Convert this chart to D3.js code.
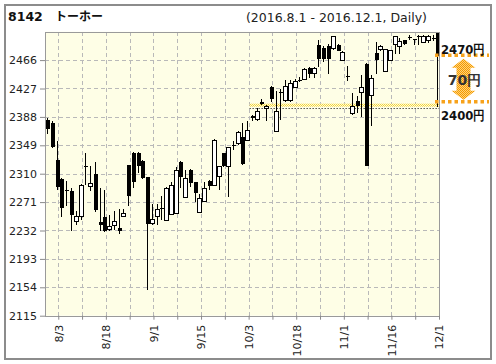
<!DOCTYPE html>
<html>
<head>
<meta charset="utf-8">
<script src="https://cdn.jsdelivr.net/npm/d3@7"></script>
<style>
body { margin: 0; background: #fff; }
</style>
</head>
<body>
<div id="chart"></div>
<script>
// trading days 2016.8.1 - 2016.12.1
var dates = ['8/1','8/2','8/3','8/4','8/5','8/8','8/9','8/10','8/12','8/15','8/16','8/17','8/18','8/19','8/22','8/23','8/24','8/25','8/26','8/29','8/30','8/31',
    '9/1','9/2','9/5','9/6','9/7','9/8','9/9','9/12','9/13','9/14','9/15','9/16','9/20','9/21','9/23','9/26','9/27','9/28','9/29','9/30',
    '10/3','10/4','10/5','10/6','10/7','10/11','10/12','10/13','10/14','10/17','10/18','10/19','10/20','10/21','10/24','10/25','10/26','10/27','10/28','10/31',
    '11/1','11/2','11/4','11/7','11/8','11/9','11/10','11/11','11/14','11/15','11/16','11/17','11/18','11/21','11/22','11/24','11/25','11/28','11/29','11/30','12/1'];
var opens = [2384,2380,2329,2303,2287,2286,2244,2251,2321,2292,2310,2243,2250,2234,2239,2236,2251,2322,2339,2339,2328,2305,
    2242,2251,2263,2246,2254,2256,2326,2277,2315,2298,2257,2272,2300,2294,2306,2338,2320,2350,2352,2360,
    2356,2389,2385,2409,2399,2429,2368,2422,2410,2411,2429,2439,2440,2455,2448,2487,2483,2486,2482,2487,
    2466,2444,2393,2410,2422,2461,2418,2476,2481,2451,2466,2487,2485,2493,2498,2495,2499,2490,2493,2497,2505];
var highs = [2386,2382,2355,2304,2300,2290,2259,2296,2338,2321,2326,2291,2287,2253,2259,2261,2261,2322,2340,2340,2329,2305,
    2269,2268,2279,2292,2299,2319,2327,2315,2316,2299,2282,2298,2301,2357,2321,2339,2347,2355,2368,2379,
    2382,2390,2400,2413,2404,2430,2423,2427,2439,2439,2440,2443,2455,2456,2456,2494,2485,2488,2499,2488,
    2478,2458,2421,2417,2445,2462,2446,2491,2487,2481,2480,2499,2496,2494,2501,2495,2500,2500,2500,2500,2505];
var lows = [2364,2345,2288,2251,2265,2231,2240,2247,2295,2286,2258,2231,2230,2231,2233,2227,2251,2266,2291,2311,2303,2150,
    2239,2239,2247,2246,2254,2255,2291,2276,2292,2271,2256,2271,2288,2293,2287,2319,2278,2342,2350,2322,
    2355,2382,2382,2404,2382,2409,2367,2384,2409,2409,2428,2436,2439,2441,2441,2456,2463,2447,2480,2478,
    2465,2437,2391,2393,2388,2320,2376,2447,2479,2450,2465,2474,2475,2487,2494,2487,2487,2489,2489,2492,2402];
var closes = [2371,2346,2292,2263,2286,2253,2251,2294,2320,2297,2260,2240,2231,2237,2245,2232,2255,2280,2299,2320,2304,2241,
    2247,2261,2261,2289,2294,2314,2306,2304,2297,2284,2276,2290,2293,2356,2320,2320,2346,2348,2367,2323,
    2370,2387,2395,2406,2402,2413,2395,2421,2430,2434,2437,2438,2453,2447,2455,2468,2468,2468,2498,2479,
    2476,2443,2402,2403,2429,2321,2441,2466,2485,2480,2479,2498,2492,2488,2497,2494,2498,2499,2499,2496,2472];

var yTicks = [2115, 2154, 2193, 2232, 2271, 2310, 2349, 2388, 2427, 2466];
var xLabels = ['8/3', '8/18', '9/1', '9/15', '10/3', '10/18', '11/1', '11/16', '12/1'];
var rangeHigh = 2470, rangeLow = 2400;

var W = 496, H = 364;
var plotL = 45, plotR = 440, plotT = 31.7, plotB = 315.7;

var svg = d3.select('#chart').append('svg')
    .attr('width', W)
    .attr('height', H)
    .style('font-family', '"DejaVu Sans", Verdana, sans-serif');

var defs = svg.append('defs');
var pOrange = defs.append('pattern').attr('id', 'dotOrange')
    .attr('width', 2).attr('height', 2).attr('patternUnits', 'userSpaceOnUse');
pOrange.append('rect').attr('width', 2).attr('height', 2).attr('fill', '#ffd27a');
pOrange.append('rect').attr('width', 1).attr('height', 1).attr('fill', '#f39a00');
pOrange.append('rect').attr('x', 1).attr('y', 1).attr('width', 1).attr('height', 1).attr('fill', '#f39a00');

var pYellow = defs.append('pattern').attr('id', 'dotYellow')
    .attr('width', 2).attr('height', 2).attr('patternUnits', 'userSpaceOnUse');
pYellow.append('rect').attr('width', 2).attr('height', 2).attr('fill', '#fffbd8');
pYellow.append('rect').attr('width', 1).attr('height', 1).attr('fill', '#f2d43c');
pYellow.append('rect').attr('x', 1).attr('y', 1).attr('width', 1).attr('height', 1).attr('fill', '#f2d43c');

// outer frame
svg.append('rect')
    .attr('x', 5).attr('y', 5)
    .attr('width', 486).attr('height', 354)
    .attr('fill', '#fff')
    .attr('stroke', '#8c8c8c')
    .attr('stroke-width', 2);

// title
svg.append('text')
    .text('8142')
    .attr('x', 8).attr('y', 21)
    .attr('font-size', '12.5px')
    .attr('font-weight', 'bold')
    .attr('fill', '#111');
svg.append('text')
    .text('トーホー')
    .attr('x', 55).attr('y', 21)
    .attr('font-family', '"Noto Sans CJK JP", sans-serif')
    .attr('font-size', '12px')
    .attr('font-weight', 'bold')
    .attr('fill', '#111');
svg.append('text')
    .text('(2016.8.1 - 2016.12.1, Daily)')
    .attr('x', 427).attr('y', 21.5)
    .attr('text-anchor', 'end')
    .attr('font-size', '12.5px')
    .attr('fill', '#222');

var xscale = d3.scaleBand()
    .domain(dates)
    .range([plotL, plotR])
    .paddingInner(0)
    .paddingOuter(0);
var bw = xscale.bandwidth();

var yscale = d3.scaleLinear()
    .domain([2115, 2505])
    .range([plotB, plotT]);

// plot background
svg.append('rect')
    .attr('x', plotL).attr('y', plotT)
    .attr('width', plotR - plotL).attr('height', plotB - plotT)
    .attr('fill', '#fefee6');

// grid lines every 5 trading days, starting at 8/3
var gridDays = dates.filter(function (d, i) { return i % 5 === 2; });

var grid_g = svg.append('g')
    .attr('stroke', '#b9b9b9')
    .attr('stroke-dasharray', '4,3')
    .attr('shape-rendering', 'crispEdges');
grid_g.selectAll('.hgrid')
    .data(yTicks.slice(1))
    .enter()
    .append('line')
    .attr('x1', plotL).attr('x2', plotR)
    .attr('y1', function (d) { return Math.round(yscale(d)) + 0.5; })
    .attr('y2', function (d) { return Math.round(yscale(d)) + 0.5; });
grid_g.selectAll('.vgrid')
    .data(gridDays)
    .enter()
    .append('line')
    .attr('y1', plotT).attr('y2', plotB)
    .attr('x1', function (d) { return Math.round(xscale(d) + bw) - 0.5; })
    .attr('x2', function (d) { return Math.round(xscale(d) + bw) - 0.5; });

// 2400 level marks
var lvl_g = svg.append('g');
lvl_g.append('rect')
    .attr('x', xscale('10/3') + bw)
    .attr('y', yscale(rangeLow) - 4.5)
    .attr('width', plotR - xscale('10/3') - bw)
    .attr('height', 3)
    .attr('fill', 'url(#dotYellow)');
lvl_g.append('line')
    .attr('x1', xscale('10/3') + bw).attr('x2', plotR)
    .attr('y1', Math.round(yscale(rangeLow)) + 0.5)
    .attr('y2', Math.round(yscale(rangeLow)) + 0.5)
    .attr('stroke', '#000')
    .attr('stroke-dasharray', '1,2');

// candles
var candles = dates.map(function (d, i) {
    return {key: d, o: opens[i], h: highs[i], l: lows[i], c: closes[i]};
});
var cx = function (d) { return Math.round(xscale(d.key) + 2.2); };

var c_g = svg.append('g').attr('shape-rendering', 'crispEdges');
c_g.selectAll('line')
    .data(candles)
    .enter()
    .append('line')
    .attr('x1', function (d) { return cx(d) + 0.5; })
    .attr('x2', function (d) { return cx(d) + 0.5; })
    .attr('y1', function (d) { return yscale(d.h); })
    .attr('y2', function (d) { return yscale(d.l); })
    .attr('stroke', '#000');
c_g.selectAll('rect')
    .data(candles)
    .enter()
    .append('rect')
    .attr('x', function (d) { return cx(d) - 1.5; })
    .attr('width', 4)
    .attr('y', function (d) { return yscale(Math.max(d.o, d.c)); })
    .attr('height', function (d) {
        return Math.max(1, Math.abs(yscale(d.o) - yscale(d.c)));
    })
    .attr('fill', function (d) { return d.c >= d.o ? '#fff' : '#000'; })
    .attr('stroke', function (d) { return d.c >= d.o ? '#000' : 'none'; });

// plot border
svg.append('rect')
    .attr('x', plotL + 0.5).attr('y', Math.round(plotT) + 0.5)
    .attr('width', plotR - plotL - 1).attr('height', plotB - plotT)
    .attr('fill', 'none')
    .attr('stroke', '#9a9a9a');

// axes
var yAxis = d3.axisLeft(yscale)
    .tickValues(yTicks)
    .tickSize(5)
    .tickPadding(3)
    .tickFormat(d3.format('d'));
var yaxis_g = svg.append('g')
    .attr('class', 'yaxis')
    .attr('transform', 'translate(' + plotL + ',0)')
    .call(yAxis);

var xAxis = d3.axisBottom(xscale)
    .tickValues(gridDays)
    .tickSize(4)
    .tickFormat(function (d) { return xLabels.indexOf(d) >= 0 ? d : ''; });
var xaxis_g = svg.append('g')
    .attr('class', 'xaxis')
    .attr('transform', 'translate(' + (bw / 2 - 0.5) + ',' + plotB + ')')
    .call(xAxis);
xaxis_g.selectAll('text')
    .attr('transform', 'rotate(-90)')
    .attr('text-anchor', 'end')
    .attr('x', -9)
    .attr('y', 0)
    .attr('dy', '0.35em');

svg.selectAll('.xaxis .domain, .yaxis .domain').remove();
svg.selectAll('.xaxis line, .yaxis line').attr('stroke', '#8a8a8a');
svg.selectAll('.xaxis text, .yaxis text')
    .attr('fill', '#222')
    .attr('font-size', '11px')
    .attr('font-family', '"DejaVu Sans", Verdana, sans-serif');

// right side range annotation
var ann_g = svg.append('g');
var yTop = yscale(rangeHigh) - 2;
var yBot = yscale(rangeLow) - 6.5;
[yTop, yBot].forEach(function (yy) {
    ann_g.append('line')
        .attr('x1', 435).attr('x2', 489)
        .attr('y1', yy).attr('y2', yy)
        .attr('stroke', '#f7a21b')
        .attr('stroke-width', 3.5)
        .attr('stroke-dasharray', '3.5,3');
});
// double arrow
var ax = 463.5, sw = 7, hw = 12, hh = 9;
var y0 = yTop + 3.5, y1 = yBot - 2;
ann_g.append('path')
    .attr('d', 'M' + ax + ',' + y0 +
        'L' + (ax + hw) + ',' + (y0 + hh) +
        'L' + (ax + sw) + ',' + (y0 + hh) +
        'L' + (ax + sw) + ',' + (y1 - hh) +
        'L' + (ax + hw) + ',' + (y1 - hh) +
        'L' + ax + ',' + y1 +
        'L' + (ax - hw) + ',' + (y1 - hh) +
        'L' + (ax - sw) + ',' + (y1 - hh) +
        'L' + (ax - sw) + ',' + (y0 + hh) +
        'L' + (ax - hw) + ',' + (y0 + hh) + 'Z')
    .attr('fill', 'url(#dotOrange)');

ann_g.append('text')
    .text(rangeHigh + '円')
    .attr('x', 441).attr('y', yTop - 1)
    .attr('font-size', '13px')
    .attr('font-weight', 'bold')
    .attr('fill', '#111')
    .attr('textLength', 44)
    .attr('lengthAdjust', 'spacingAndGlyphs');
ann_g.append('text')
    .text(rangeLow + '円')
    .attr('x', 441).attr('y', yBot + 18.5)
    .attr('font-size', '13px')
    .attr('font-weight', 'bold')
    .attr('fill', '#111')
    .attr('textLength', 44)
    .attr('lengthAdjust', 'spacingAndGlyphs');
ann_g.append('text')
    .text((rangeHigh - rangeLow) + '円')
    .attr('x', ax + 1).attr('y', (y0 + y1) / 2 + 5.5)
    .attr('text-anchor', 'middle')
    .attr('font-size', '14px')
    .attr('font-weight', 'bold')
    .attr('fill', '#333');
</script>
</body>
</html>
